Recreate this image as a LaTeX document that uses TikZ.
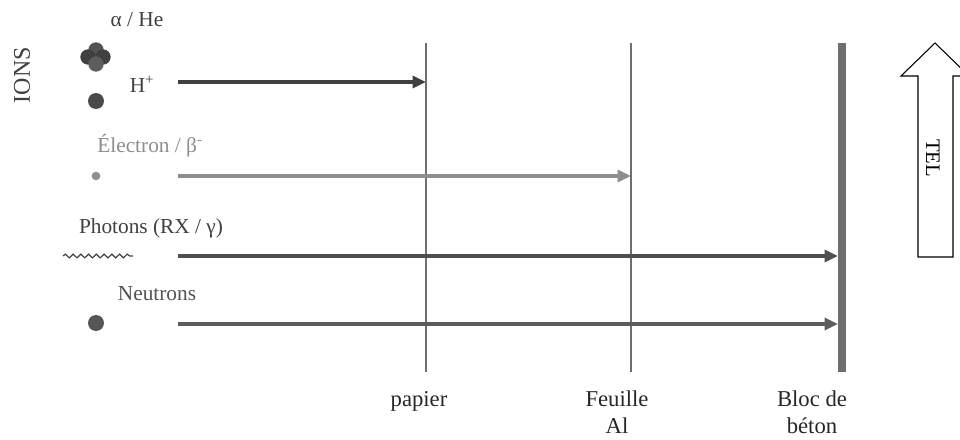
\documentclass[tikz,border=0pt]{standalone}
\usepackage{fontspec}
\setmainfont{Liberation Serif}
\usetikzlibrary{arrows.meta,positioning,decorations.pathmorphing,calc}

\definecolor{ink}{HTML}{404040}
\definecolor{lightink}{HTML}{8E8E8E}
\definecolor{wallgrey}{HTML}{6E6E6E}

\begin{document}
\begin{tikzpicture}[x=0.75pt,y=-0.75pt,
    ray/.style={line width=2.4pt,-{Triangle[length=10pt,width=9pt]}},
    txt/.style={font=\fontsize{16}{19}\selectfont,text=ink,inner sep=0pt},
    bottxt/.style={font=\fontsize{17}{20}\selectfont,text=black!85,inner sep=0pt,align=center,anchor=north},
    wall/.style={draw=wallgrey,line width=1pt},
    ball/.style={circle,fill=#1,inner sep=0pt,minimum size=12pt},
    nucleon/.style={circle,fill=#1,inner sep=0pt,minimum size=11.5pt}]
  \useasboundingbox (0,0) rectangle (960,439);

  % barrieres
  \coordinate (paper_top) at (426,43);
  \coordinate (paper_bot) at (426,372);
  \coordinate (al_top) at (631,43);
  \coordinate (al_bot) at (631,372);
  \coordinate (beton_top) at (842,43);
  \coordinate (beton_bot) at (842,372);
  \draw[wall] (paper_top) -- (paper_bot);
  \draw[wall] (al_top) -- (al_bot);
  \draw[draw=wallgrey,line width=6pt] (beton_top) -- (beton_bot);

  \node[bottxt] (paper) at (419,391) {papier};
  \node[bottxt] (al) at (617,391) {Feuille\\Al};
  \node[bottxt] (beton) at (812,391) {Bloc de\\béton};

  % particules
  \node[rotate=90,txt,font=\fontsize{18}{21}\selectfont] (ions) at (22,75) {IONS};
  \node[txt] (alpha_lbl) at (137,20) {α / He};
  \node[nucleon=ink!90] (n_t) at (96,50) {};
  \node[nucleon=ink] (n_l) at (88,57) {};
  \node[nucleon=ink] (n_r) at (103,57) {};
  \node[nucleon=ink!85] (n_b) at (96,64) {};

  \node[txt] (hp_lbl) at (142,84) {H\textsuperscript{+}};
  \node[ball=ink!95] (hp) at (96,101) {};
  \coordinate (hp_s) at (178,82);

  \node[txt,text=lightink] (e_lbl) at (150,146) {Électron / β\textsuperscript{-}};
  \node[ball=lightink,minimum size=6.5pt] (e) at (96,176) {};
  \coordinate (e_s) at (178,176);

  \node[txt] (ph_lbl) at (151,228) {Photons (RX / γ)};
  \coordinate (wave_a) at (63,256);
  \coordinate (wave_b) at (133,256);
  \draw[ink,line width=0.9pt,decorate,decoration={snake,segment length=5.8pt,amplitude=1.4pt}] (wave_a) -- (wave_b);
  \coordinate (ph_s) at (178,256);

  \node[txt,text=ink!90] (n_lbl) at (157,294) {Neutrons};
  \node[ball=ink!88] (n) at (96,323) {};
  \coordinate (n_s) at (178,324);

  \draw[ray,draw=ink,fill=ink] (hp_s) -- (hp_s -| paper_top);
  \draw[ray,draw=lightink,fill=lightink] (e_s) -- (e_s -| al_top);
  \draw[ray,draw=ink!92,shorten >=3pt] (ph_s) -- (ph_s -| beton_top);
  \draw[ray,draw=ink!85,shorten >=3pt] (n_s) -- (n_s -| beton_top);

  % TEL
  \draw[line width=0.8pt,fill=white] (935,43) -- (969,76) -- (953,76) -- (953,257)
    -- (918,257) -- (918,76) -- (901,76) -- cycle;
  \node[txt,rotate=-90,text=black,font=\fontsize{15.5}{18}\selectfont] (tel) at (933,158) {TEL};
\end{tikzpicture}
\end{document}
